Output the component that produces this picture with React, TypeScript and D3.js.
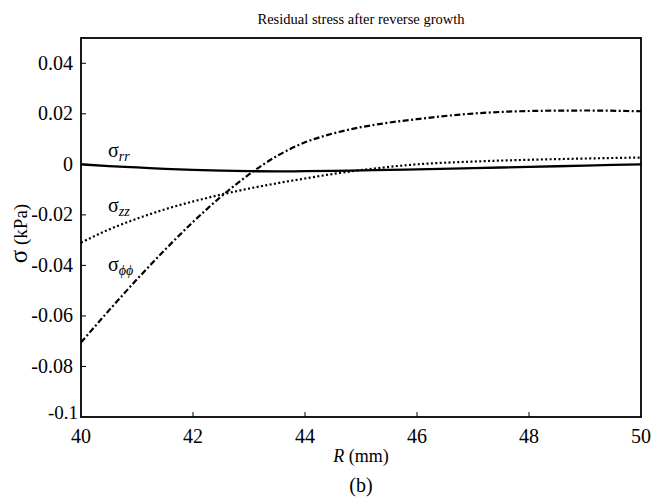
import React from "react";
import * as d3 from "d3";

const R = [40, 40.5, 41, 41.5, 42, 42.5, 43, 43.5, 44, 44.5, 45, 45.5, 46, 47, 48, 49, 50];
const sigmaRR = [0, -0.0007, -0.0012, -0.0018, -0.0022, -0.0025, -0.0027, -0.0028, -0.0027, -0.0026, -0.0024, -0.0022, -0.002, -0.0015, -0.001, -0.0005, 0];
const sigmaZZ = [-0.031, -0.0258, -0.0215, -0.0178, -0.0147, -0.012, -0.0096, -0.0075, -0.0056, -0.0038, -0.0023, -0.001, 0, 0.0011, 0.0018, 0.0023, 0.0027];
const sigmaPP = [-0.0705, -0.0578, -0.0455, -0.0338, -0.0228, -0.0128, -0.004, 0.0033, 0.0087, 0.0122, 0.0147, 0.0165, 0.0179, 0.0201, 0.0211, 0.0213, 0.021];
const xTicks = [40, 42, 44, 46, 48, 50];
const yTicks = [-0.1, -0.08, -0.06, -0.04, -0.02, 0, 0.02, 0.04];
const yTickLabels = ["-0.1", "-0.08", "-0.06", "-0.04", "-0.02", "0", "0.02", "0.04"];

const W = 669, H = 498;
const L = 81, Rt = 641, T = 38, B = 417;
const font = '"Liberation Serif", "DejaVu Serif", serif';
const ts: React.CSSProperties = { fontFamily: font };

export default function App() {
  const x = d3.scaleLinear().domain([40, 50]).range([L, Rt]);
  const y = d3.scaleLinear().domain([-0.1, 0.05]).range([B, T]);
  const mk = (vals: number[]) =>
    d3.line<number>().x((_, i) => x(R[i])).y((v) => y(v)).curve(d3.curveMonotoneX)(vals) || "";

  return (
    <svg width={W} height={H} style={{ position: "absolute", left: 0, top: 0, background: "#fff", fontFamily: font }}>
      <rect x={0} y={0} width={W} height={H} fill="#fff" />
      <text style={ts} x={(L + Rt) / 2} y={24} textAnchor="middle" fontSize={14.5}>Residual stress after reverse growth</text>
      <defs>
        <clipPath id="clip"><rect x={L} y={T} width={Rt - L} height={B - T} /></clipPath>
      </defs>
      <g clipPath="url(#clip)" fill="none" stroke="#000">
        <path d={mk(sigmaRR)} strokeWidth={2.3} />
        <path d={mk(sigmaZZ)} strokeWidth={2.2} strokeDasharray="2,2.4" />
        <path d={mk(sigmaPP)} strokeWidth={2.2} strokeDasharray="6,2.5,2,2.5" />
      </g>
      {xTicks.slice(1, -1).map((t) => (
        <line key={"xt" + t} x1={x(t)} x2={x(t)} y1={B} y2={B - 5} stroke="#000" strokeWidth={1} />
      ))}
      {yTicks.slice(1).map((t) => (
        <line key={"yt" + t} x1={L} x2={L + 5} y1={y(t)} y2={y(t)} stroke="#000" strokeWidth={1} />
      ))}
      <rect x={L} y={T} width={Rt - L} height={B - T} fill="none" stroke="#000" strokeWidth={1.8} />
      {yTicks.map((t, i) =>
        t === -0.1 ? (
          <text style={ts} key={"yl" + t} x={L - 3} y={y(t) + 2} textAnchor="end" fontSize={19}>{yTickLabels[i]}</text>
        ) : (
          <text style={ts} key={"yl" + t} x={L - 8} y={y(t) + 6.5} textAnchor="end" fontSize={20}>{yTickLabels[i]}</text>
        )
      )}
      {xTicks.map((t) => (
        <text style={ts} key={"xl" + t} x={x(t)} y={443} textAnchor="middle" fontSize={20}>{t}</text>
      ))}
      <text style={ts} x={(L + Rt) / 2} y={462} textAnchor="middle" fontSize={18}>
        <tspan fontStyle="italic">R</tspan> (mm)
      </text>
      <text style={ts} x={(L + Rt) / 2} y={492} textAnchor="middle" fontSize={20}>(b)</text>
      <text style={ts} transform={`translate(27,${(T + B) / 2 + 6}) rotate(-90)`} textAnchor="middle" fontSize={19}>
        <tspan fontSize={25}>σ</tspan> (kPa)
      </text>
      <text style={ts} x={108} y={157} fontSize={20}>σ<tspan fontSize={14} fontStyle="italic" dy={4}>rr</tspan></text>
      <text style={ts} x={108} y={212} fontSize={20}>σ<tspan fontSize={14} fontStyle="italic" dy={4}>zz</tspan></text>
      <text style={ts} x={108} y={271} fontSize={20}>σ<tspan fontSize={14} fontStyle="italic" dy={4}>ϕϕ</tspan></text>
    </svg>
  );
}
